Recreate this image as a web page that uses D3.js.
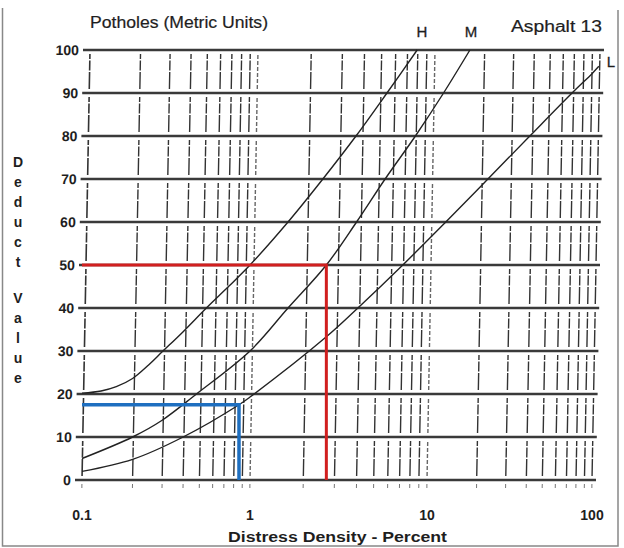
<!DOCTYPE html>
<html>
<head>
<meta charset="utf-8">
<script src="https://cdn.jsdelivr.net/npm/d3@7/dist/d3.min.js"></script>
<style>
  html, body { margin: 0; padding: 0; background: #fff; }
  svg { display: block; }
  text { font-family: "Liberation Sans", Arial, sans-serif; fill: #1e1e1e; }
</style>
</head>
<body>
<svg id="chart" width="624" height="548"></svg>
<script>
// Deduct value curves for potholes (asphalt, metric units), by severity
const hDensity = [0.1, 0.13, 0.16, 0.2, 0.25, 0.3, 0.4, 0.55, 0.75, 1, 1.64, 2.58, 3.97, 5.94, 8.8];
const hDeduct  = [20.2, 20.7, 21.7, 23.6, 26.8, 29.8, 34.5, 40, 45.1, 50, 60, 70, 80, 90, 100];

const mDensity = [0.1, 0.2, 0.3, 0.48, 1, 1.64, 2.7, 4.0, 5.8, 8.6, 12.6, 18.2];
const mDeduct  = [5, 10, 13.9, 20, 30, 40, 50, 60, 70, 80, 90, 100];

const lDensity = [0.1, 0.2, 0.4, 0.86, 1, 2.7, 4.07, 7.3, 13, 23.4, 42, 75.7, 100, 110];
const lDeduct  = [2, 4.8, 10, 17.5, 19.3, 33.3, 40, 50, 60, 70, 80, 90, 94.5, 96.2];

// Worked examples drawn on the chart
const redDensity = 2.7,  redDeduct = 50;
const blueDensity = 0.86, blueDeduct = 17.5;

// Axis ticks
const xMajor = [0.1, 1, 10, 100];
const xMajorLabels = ["0.1", "1", "10", "100"];
const yTicks = [0, 10, 20, 30, 40, 50, 60, 70, 80, 90, 100];
const xGrid = [0.1, 1, 10].flatMap(d => [1, 2, 3, 4, 5, 6, 7, 8, 9].map(k => +(k * d).toPrecision(3))).concat([100]);

const svg = d3.select("#chart");

// Decades of the printed log axis are not quite equal in width
const x = d3.scaleLog().domain([0.1, 1, 10, 100]).range([82, 250, 427, 592]);
const y = d3.scaleLinear().domain([0, 100]).range([480, 50]);
const plotRight = 596;

// The printed grid leans slightly to the right towards the top
const lean = 8 / 430;
const grid = svg.append("g")
  .attr("transform", `translate(${lean * y(0)},0) skewX(${-Math.atan(lean) * 180 / Math.PI})`);

// Outer frame (left, bottom, right)
svg.append("path")
  .attr("d", "M2.5,8 L2.5,546 L618,546 L618,10")
  .attr("fill", "none").attr("stroke", "#888").attr("stroke-width", 1.5);

// Vertical grid, broken around each horizontal rule
const gv = grid.append("g");
xGrid.forEach(v => {
  const major = (v === 1 || v === 10);
  for (let i = 0; i < yTicks.length - 1; i++) {
    gv.append("line")
      .attr("x1", x(v)).attr("x2", x(v))
      .attr("y1", y(yTicks[i]) - 4).attr("y2", y(yTicks[i + 1]) + 4)
      .attr("stroke", major ? "#666" : "#333")
      .attr("stroke-width", (v === 0.1) ? 1.6 : 1.4)
      .attr("stroke-dasharray", major ? "4,2" : "17,1.5,10,1.5");
  }
  gv.append("line")
    .attr("x1", x(v)).attr("x2", x(v))
    .attr("y1", y(0) + 4).attr("y2", y(0) + 8)
    .attr("stroke", "#777").attr("stroke-width", 1);
});

// Horizontal rules with left tick marks
grid.append("g").selectAll("line").data(yTicks).join("line")
  .attr("x1", x(0.1) - 7).attr("x2", plotRight)
  .attr("y1", d => y(d)).attr("y2", d => y(d))
  .attr("stroke", "#3a3a3a").attr("stroke-width", 2.4);

// Y tick labels
grid.append("g").selectAll("text").data(yTicks).join("text")
  .attr("x", 71).attr("y", d => y(d) + 5)
  .attr("text-anchor", "end")
  .attr("font-size", 14).attr("font-weight", "bold")
  .text(d => d);

// X tick labels
svg.append("g").selectAll("text").data(xMajor).join("text")
  .attr("x", d => x(d)).attr("y", 520)
  .attr("text-anchor", "middle")
  .attr("font-size", 14).attr("font-weight", "bold")
  .text((d, i) => xMajorLabels[i]);

// Severity curves
const line = d3.line()
  .x(d => x(d[0])).y(d => y(d[1]))
  .curve(d3.curveCatmullRom.alpha(0.5));
[[hDensity, hDeduct], [mDensity, mDeduct], [lDensity, lDeduct]].forEach(([xs, ys]) => {
  svg.append("path")
    .datum(d3.zip(xs, ys))
    .attr("d", line)
    .attr("fill", "none").attr("stroke", "#222").attr("stroke-width", 1.4);
});

// Worked examples
svg.append("path")
  .attr("d", `M${x(0.1)},${y(redDeduct)} L${x(redDensity)},${y(redDeduct)} L${x(redDensity)},${y(0)}`)
  .attr("fill", "none").attr("stroke", "#d11f1f").attr("stroke-width", 3);
svg.append("path")
  .attr("d", `M${x(0.1)},${y(blueDeduct)} L${x(blueDensity)},${y(blueDeduct)} L${x(blueDensity)},${y(0)}`)
  .attr("fill", "none").attr("stroke", "#1e6fc0").attr("stroke-width", 3.5);

// Axis titles
svg.append("text")
  .attr("x", 228).attr("y", 542)
  .attr("font-size", 14.5).attr("font-weight", "bold")
  .attr("textLength", 219).attr("lengthAdjust", "spacingAndGlyphs")
  .text("Distress Density - Percent");

const yTitle = "Deduct Value".split("");
let yy = 167;
const gy = svg.append("g");
yTitle.forEach(ch => {
  if (ch === " ") { yy += 16; return; }
  gy.append("text")
    .attr("x", 18).attr("y", yy)
    .attr("text-anchor", "middle")
    .attr("font-size", 14).attr("font-weight", "bold")
    .text(ch);
  yy += 20;
});

// Header texts
svg.append("text").attr("x", 90).attr("y", 28)
  .attr("font-size", 16).attr("stroke", "#1e1e1e").attr("stroke-width", 0.2)
  .attr("textLength", 178).attr("lengthAdjust", "spacingAndGlyphs")
  .text("Potholes (Metric Units)");
svg.append("text").attr("x", 511).attr("y", 32)
  .attr("font-size", 16).attr("stroke", "#1e1e1e").attr("stroke-width", 0.2)
  .attr("textLength", 91).attr("lengthAdjust", "spacingAndGlyphs")
  .text("Asphalt 13");
svg.append("text").attr("x", 422).attr("y", 37).attr("text-anchor", "middle")
  .attr("font-size", 15).attr("stroke", "#1e1e1e").attr("stroke-width", 0.3).text("H");
svg.append("text").attr("x", 471).attr("y", 37).attr("text-anchor", "middle")
  .attr("font-size", 15).attr("stroke", "#1e1e1e").attr("stroke-width", 0.3).text("M");
svg.append("text").attr("x", 611).attr("y", 67).attr("text-anchor", "middle")
  .attr("font-size", 15).attr("stroke", "#1e1e1e").attr("stroke-width", 0.3).text("L");
</script>
</body>
</html>
